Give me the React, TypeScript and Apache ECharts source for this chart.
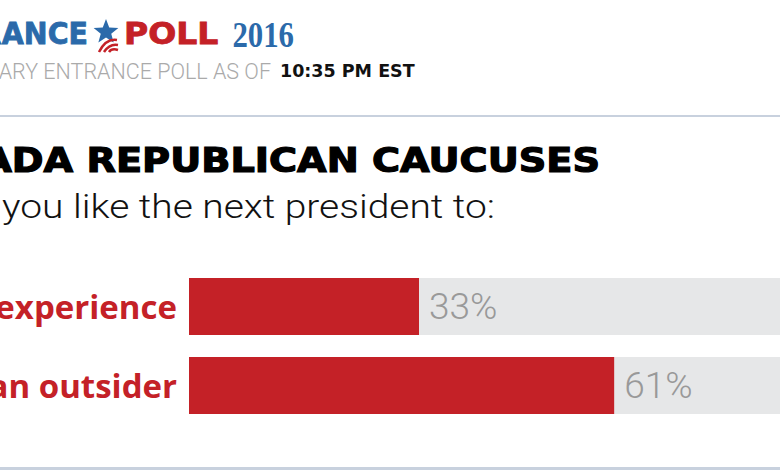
import React, { useEffect, useRef } from "react";
import * as echarts from "echarts";

const categories = ["Have political experience", "Be an outsider"];
const values = [33, 61];
const headerBrand = ["ENTRANCE", "POLL", "2016"];
const subtitleLead = "PRELIMINARY ENTRANCE POLL AS OF";
const subtitleTime = "10:35 PM EST";
const title = "NEVADA REPUBLICAN CAUCUSES";
const question = "Would you like the next president to:";

const RED = "#c42127";
const BLUE = "#2b6aaa";

function starPoints(cx: number, cy: number, ro: number, ri: number) {
  const pts: number[][] = [];
  for (let i = 0; i < 10; i++) {
    const r = i % 2 === 0 ? ro : ri;
    const a = -Math.PI / 2 + (i * Math.PI) / 5;
    pts.push([cx + r * Math.cos(a), cy + r * Math.sin(a)]);
  }
  return pts;
}

export default function App() {
  const ref = useRef<HTMLDivElement>(null);
  useEffect(() => {
    if (!ref.current) return;
    const chart = echarts.init(ref.current, null, { renderer: "svg" });
    chart.setOption({
      animation: false,
      backgroundColor: "#ffffff",
      grid: {
        left: 189,
        top: 267,
        width: 697,
        height: 158,
        containLabel: false,
        outerBoundsMode: "none",
      },
      xAxis: { type: "value", min: 0, max: 100, show: false },
      yAxis: {
        type: "category",
        data: categories,
        inverse: true,
        axisLine: { show: false },
        axisTick: { show: false },
        splitLine: { show: false },
        axisLabel: {
          margin: 12,
          color: RED,
          fontFamily: "Open Sans",
          fontWeight: 700,
          fontSize: 33,
        },
      },
      series: [
        {
          type: "bar",
          data: values,
          barWidth: 57,
          showBackground: true,
          backgroundStyle: { color: "#e6e7e8" },
          itemStyle: { color: RED },
          label: {
            show: true,
            position: "right",
            distance: 10,
            formatter: "{c}%",
            color: "#999999",
            fontFamily: "Roboto",
            fontWeight: 300,
            fontSize: 37,
          },
        },
      ],
      graphic: [
        {
          type: "text",
          x: 88,
          y: 34,
          scaleX: 0.95,
          style: {
            text: headerBrand[0],
            fill: BLUE,
            font: "bold 30px 'DejaVu Sans'",
            textAlign: "right",
            textVerticalAlign: "middle",
            stroke: BLUE,
            lineWidth: 0.8,
          },
        },
        {
          type: "polygon",
          shape: { points: starPoints(106, 32, 13, 5.5) },
          style: { fill: BLUE },
        },
        {
          type: "bezierCurve",
          shape: { x1: 99, y1: 52, x2: 117, y2: 40, cpx1: 104, cpy1: 42, cpx2: 111, cpy2: 39 },
          style: { stroke: RED, lineWidth: 2.5, fill: "none" },
        },
        {
          type: "bezierCurve",
          shape: { x1: 104, y1: 52, x2: 118, y2: 45, cpx1: 108, cpy1: 46, cpx2: 113, cpy2: 44 },
          style: { stroke: RED, lineWidth: 2.5, fill: "none" },
        },
        {
          type: "bezierCurve",
          shape: { x1: 109, y1: 52, x2: 118, y2: 50, cpx1: 111, cpy1: 49, cpx2: 115, cpy2: 49 },
          style: { stroke: RED, lineWidth: 2.5, fill: "none" },
        },
        {
          type: "text",
          x: 124,
          y: 34,
          scaleX: 1.1,
          style: {
            text: headerBrand[1],
            fill: RED,
            font: "bold 30px 'DejaVu Sans'",
            textAlign: "left",
            textVerticalAlign: "middle",
            stroke: RED,
            lineWidth: 0.8,
          },
        },
        {
          type: "text",
          x: 294,
          y: 35,
          scaleX: 0.88,
          style: {
            text: headerBrand[2],
            fill: BLUE,
            font: "bold 35px 'Liberation Serif'",
            textAlign: "right",
            textVerticalAlign: "middle",
          },
        },
        {
          type: "text",
          x: 271,
          y: 71,
          style: {
            text: subtitleLead,
            fill: "#aaaaaa",
            font: "300 21.5px Roboto",
            textAlign: "right",
            textVerticalAlign: "middle",
          },
        },
        {
          type: "text",
          x: 280,
          y: 71,
          style: {
            text: subtitleTime,
            fill: "#111111",
            font: "bold 17.5px 'DejaVu Sans'",
            textAlign: "left",
            textVerticalAlign: "middle",
          },
        },
        {
          type: "line",
          shape: { x1: 0, y1: 116, x2: 780, y2: 116 },
          style: { stroke: "#c8d1de", lineWidth: 2 },
        },
        {
          type: "text",
          x: 600,
          y: 160,
          scaleX: 1.16,
          style: {
            text: title,
            fill: "#000000",
            font: "bold 33px 'DejaVu Sans'",
            textAlign: "right",
            textVerticalAlign: "middle",
            stroke: "#000000",
            lineWidth: 1.2,
          },
        },
        {
          type: "text",
          x: 495,
          y: 207,
          scaleX: 1.18,
          style: {
            text: question,
            fill: "#111111",
            font: "300 33px Roboto",
            textAlign: "right",
            textVerticalAlign: "middle",
          },
        },
        {
          type: "line",
          shape: { x1: 0, y1: 468.5, x2: 780, y2: 468.5 },
          style: { stroke: "#c8d1de", lineWidth: 3 },
        },
      ],
    });
    return () => chart.dispose();
  }, []);
  return (
    <div
      ref={ref}
      style={{ position: "fixed", left: 0, top: 0, width: 780, height: 470 }}
    />
  );
}
